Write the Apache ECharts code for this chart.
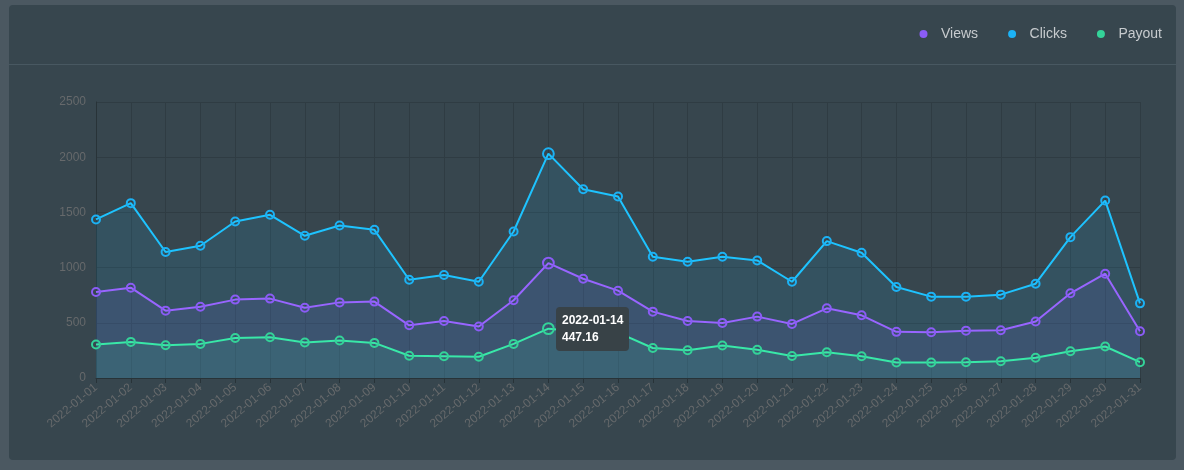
<!DOCTYPE html>
<html>
<head>
<meta charset="utf-8">
<script src="https://cdn.jsdelivr.net/npm/echarts@6/dist/echarts.min.js"></script>
<style>
  html, body { margin: 0; padding: 0; background: #4b5861; }
  .card {
    position: absolute; left: 9px; top: 5px; width: 1167px; height: 455px;
    background: #37464e; border-radius: 4px;
  }
  .card .head { height: 59px; border-bottom: 1px solid #485861; }
  #chart { position: absolute; left: 0; top: 0; width: 1184px; height: 470px; }
</style>
</head>
<body>
<div class="card"><div class="head"></div></div>
<div id="chart"></div>
<script>
const dates = [
  '2022-01-01', '2022-01-02', '2022-01-03', '2022-01-04', '2022-01-05', '2022-01-06', '2022-01-07', '2022-01-08',
  '2022-01-09', '2022-01-10', '2022-01-11', '2022-01-12', '2022-01-13', '2022-01-14', '2022-01-15', '2022-01-16',
  '2022-01-17', '2022-01-18', '2022-01-19', '2022-01-20', '2022-01-21', '2022-01-22', '2022-01-23', '2022-01-24',
  '2022-01-25', '2022-01-26', '2022-01-27', '2022-01-28', '2022-01-29', '2022-01-30', '2022-01-31',
]
const views = [779, 818, 610, 646, 710, 719, 637, 685, 692, 477, 517, 466, 704, 1041, 899, 791,
  601, 517, 499, 556, 490, 631, 568, 418, 414, 429, 432, 511, 767, 945, 423]
const clicks = [1436, 1584, 1141, 1198, 1418, 1478, 1288, 1381, 1342, 890, 933, 872, 1327, 2032, 1710, 1644,
  1098, 1053, 1098, 1065, 872, 1240, 1135, 824, 737, 737, 755, 854, 1276, 1607, 676]
const payout = [303, 327, 297, 309, 363, 369, 321, 339, 318, 201, 197, 192, 309, 447.16, 420, 411,
  272, 251, 294, 255, 199, 233, 197, 140, 140, 143, 152, 183, 242, 285, 143]
const yTicks = { min: 0, max: 2500, interval: 500 }

const font = 'Liberation Sans, Arial, sans-serif'
const colorList = ['#8b5cf6', '#1cb2f5', '#34d399']
const names = ['Views', 'Clicks', 'Payout']
const seriesData = [views, clicks, payout]

var myChart = echarts.init(document.getElementById('chart'))

let seriesLst = []
seriesData.forEach((list, index) => {
  seriesLst.push({
    name: names[index],
    type: 'line',
    symbol: 'circle',
    symbolSize: 8,
    showAllSymbol: true,
    itemStyle: {
      color: 'rgba(0,0,0,0)', // 空心点，线从中间穿过
      borderColor: colorList[index],
      borderWidth: 2,
    },
    lineStyle: {
      color: colorList[index],
      width: 2,
    },
    areaStyle: {
      color: colorList[index],
      opacity: 0.1,
    },
    emphasis: {
      scale: 1.35,
      itemStyle: { color: 'rgba(0,0,0,0)', borderColor: colorList[index], borderWidth: 2 },
    },
    data: list,
  })
})

var option = {
  textStyle: { fontFamily: font },
  grid: {
    left: 96,
    right: 44,
    top: 102,
    bottom: 92,
  },
  legend: {
    data: names.map((n, i) => ({ name: n, itemStyle: { color: colorList[i], borderWidth: 0 } })),
    icon: 'circle',
    right: 17,
    top: 22,
    itemWidth: 25,
    itemHeight: 8,
    itemGap: 30,
    textStyle: { color: '#c7cbce', fontSize: 14, fontFamily: font },
  },
  tooltip: {
    trigger: 'axis',
    axisPointer: { type: 'none' },
    alwaysShowContent: true,
    transitionDuration: 0,
    backgroundColor: '#384247',
    borderWidth: 0,
    padding: [5, 6],
    extraCssText: 'box-shadow:none;border-radius:4px;line-height:17px;',
    textStyle: { color: '#ffffff', fontSize: 12, fontWeight: 'bold', fontFamily: font },
    formatter: function (params) {
      const p = params[params.length - 1]
      return p.name + '<br/>' + p.value
    },
    position: function (point, params, dom, rect, size) {
      const p = myChart.convertToPixel({ seriesIndex: 2 }, [13, payout[13]])
      return [p[0] + 8, p[1] - size.contentSize[1] / 2]
    },
  },
  xAxis: {
    type: 'category',
    boundaryGap: false,
    data: dates,
    axisLine: { show: true, lineStyle: { color: '#283338', width: 1 } },
    axisTick: { show: true, length: 5, lineStyle: { color: '#283338' } },
    axisLabel: { rotate: 40, color: '#66696b', fontSize: 12, margin: 8, interval: 0, fontFamily: font },
    splitLine: { show: true, lineStyle: { color: '#2f3c43' } },
  },
  yAxis: {
    type: 'value',
    min: yTicks.min,
    max: yTicks.max,
    interval: yTicks.interval,
    axisLine: { show: true, lineStyle: { color: '#283338' } },
    axisTick: { show: false },
    axisLabel: { color: '#66696b', fontSize: 12, margin: 10, fontFamily: font, formatter: (v) => String(v) },
    splitLine: { show: true, lineStyle: { color: '#2f3c43' } },
  },
  series: seriesLst,
}

myChart.setOption(option)
myChart.dispatchAction({ type: 'showTip', seriesIndex: 2, dataIndex: 13 })
</script>
</body>
</html>
